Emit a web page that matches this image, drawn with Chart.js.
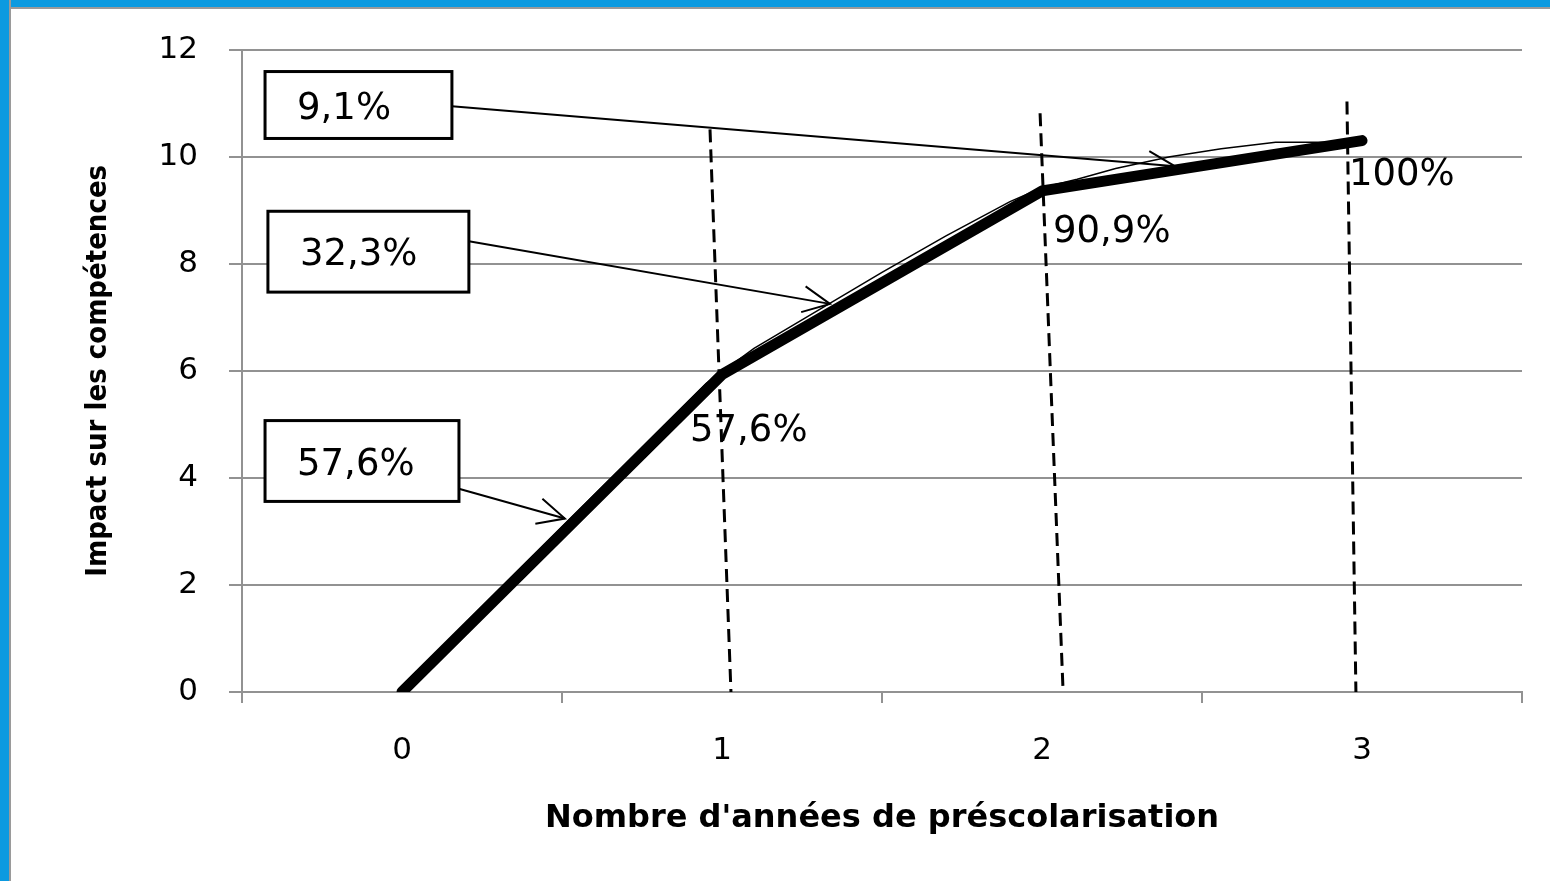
<!DOCTYPE html>
<html>
<head>
<meta charset="utf-8">
<script src="https://cdn.jsdelivr.net/npm/chart.js@4/dist/chart.umd.min.js"></script>
<style>
  html, body { margin: 0; padding: 0; background: #fff; }
  #frame { position: absolute; left: 0; top: 0; width: 1550px; height: 881px; overflow: hidden; }
  #topBand { position: absolute; left: 0; top: 0; width: 1550px; height: 7px; background: #0b9ae0; border-bottom: 2px solid #9a9a9a; }
  #leftBand { position: absolute; left: 0; top: 0; width: 9px; height: 881px; background: #0b9ae0; border-right: 2px solid #9a9a9a; }
  #chart { position: absolute; left: 0; top: 0; }
</style>
</head>
<body>
<div id="frame">
  <div id="topBand"></div>
  <div id="leftBand"></div>
  <canvas id="chart" width="1550" height="881"></canvas>
</div>
<script>
// categories and series
const categories = ["0", "1", "2", "3"];
const impact = [0, 5.93, 9.36, 10.3];
const pointLabels = ["", "57,6%", "90,9%", "100%"];

// thin hand-drawn trace running along the thick line
const traceX = [0, 0.25, 0.5, 0.75, 0.95, 1.1, 1.3, 1.5, 1.7, 1.9, 2.0, 2.11, 2.23, 2.4, 2.56, 2.73, 2.91, 3.0];
const traceY = [0, 1.58, 3.08, 4.57, 5.76, 6.42, 7.13, 7.84, 8.52, 9.16, 9.42, 9.58, 9.78, 10.0, 10.15, 10.27, 10.27, 10.3];

// gain labels in the boxes (share of the total gain per year)
const gainLabels = ["9,1%", "32,3%", "57,6%"];

const yTickMin = 0, yTickMax = 12, yTickStep = 2;

// annotation placement, in axis units
const boxPlace = [
  { x1: -0.428, x2: 0.156, yTop: 11.59, yBot: 10.34 },
  { x1: -0.419, x2: 0.209, yTop: 8.98, yBot: 7.47 },
  { x1: -0.428, x2: 0.178, yTop: 5.07, yBot: 3.56 }
];
const arrowPath = [
  [{ x: 0.156, y: 10.94 }, { x: 2.416, y: 9.82 }],
  [{ x: 0.209, y: 8.42 }, { x: 1.3375, y: 7.25 }],
  [{ x: 0.175, y: 3.80 }, { x: 0.509, y: 3.24 }]
];
const dashPath = [
  [{ x: 0.9625, y: 10.51 }, { x: 1.028, y: 0 }],
  [{ x: 1.994, y: 10.81 }, { x: 2.066, y: 0 }],
  [{ x: 2.953, y: 11.03 }, { x: 2.981, y: 0 }]
];
const labelShift = [null, { dx: -32, dy: 57 }, { dx: 11, dy: 41 }, { dx: -13, dy: 35 }];

const gridGrey = "#929292";
const valueFont = "37px 'DejaVu Sans', Verdana, sans-serif";

const annotations = {
  id: "annotations",
  afterDatasetsDraw(chart) {
    const ctx = chart.ctx, xs = chart.scales.xTrace, ys = chart.scales.y;
    ctx.save();

    // arrow heads
    ctx.strokeStyle = "#000";
    ctx.lineWidth = 2;
    arrowPath.forEach(p => {
      const x0 = xs.getPixelForValue(p[0].x), y0 = ys.getPixelForValue(p[0].y);
      const x1 = xs.getPixelForValue(p[1].x), y1 = ys.getPixelForValue(p[1].y);
      const a = Math.atan2(y1 - y0, x1 - x0), len = 30, spread = 0.45;
      ctx.beginPath();
      ctx.moveTo(x1 - len * Math.cos(a - spread), y1 - len * Math.sin(a - spread));
      ctx.lineTo(x1, y1);
      ctx.lineTo(x1 - len * Math.cos(a + spread), y1 - len * Math.sin(a + spread));
      ctx.stroke();
    });

    // boxes
    ctx.font = valueFont;
    ctx.textBaseline = "middle";
    ctx.textAlign = "left";
    gainLabels.forEach((t, i) => {
      const b = boxPlace[i];
      const l = xs.getPixelForValue(b.x1), r = xs.getPixelForValue(b.x2);
      const top = ys.getPixelForValue(b.yTop), bot = ys.getPixelForValue(b.yBot);
      ctx.fillStyle = "#fff";
      ctx.fillRect(l, top, r - l, bot - top);
      ctx.lineWidth = 3;
      ctx.strokeStyle = "#000";
      ctx.strokeRect(l, top, r - l, bot - top);
      ctx.fillStyle = "#000";
      ctx.fillText(t, l + 32, (top + bot) / 2 + 4);
    });

    // point labels
    const meta = chart.getDatasetMeta(0);
    pointLabels.forEach((t, i) => {
      if (!t) return;
      const pt = meta.data[i];
      ctx.fillStyle = "#000";
      ctx.fillText(t, pt.x + labelShift[i].dx, pt.y + labelShift[i].dy);
    });
    ctx.restore();
  }
};

const traceData = traceX.map((x, i) => ({ x, y: traceY[i] }));

const datasets = [
  {
    data: impact,
    xAxisID: "x",
    borderColor: "#000",
    borderWidth: 11,
    borderCapStyle: "round",
    borderJoinStyle: "round",
    pointRadius: 0,
    tension: 0,
    order: 0
  },
  {
    data: traceData,
    xAxisID: "xTrace",
    borderColor: "#000",
    borderWidth: 1.5,
    pointRadius: 0,
    tension: 0,
    order: 1
  }
];
dashPath.forEach(p => datasets.push({
  data: p, xAxisID: "xTrace", borderColor: "#000", borderWidth: 3,
  borderDash: [13, 7], pointRadius: 0, order: 2, clip: false
}));
arrowPath.forEach(p => datasets.push({
  data: p, xAxisID: "xTrace", borderColor: "#000", borderWidth: 2,
  pointRadius: 0, order: 2
}));

new Chart(document.getElementById("chart"), {
  type: "line",
  data: { labels: categories, datasets },
  options: {
    responsive: false,
    devicePixelRatio: 1,
    animation: false,
    layout: { padding: { top: 47, right: 28, left: 0, bottom: 0 } },
    plugins: { legend: { display: false }, tooltip: { enabled: false } },
    scales: {
      x: {
        type: "category",
        offset: true,
        afterFit: s => { s.height = 189; },
        grid: { offset: true, drawOnChartArea: false, drawTicks: true, tickLength: 11, color: gridGrey, lineWidth: 2 },
        border: { color: gridGrey, width: 2 },
        ticks: { color: "#000", padding: 29, font: { family: "'DejaVu Sans', Verdana, sans-serif", size: 31 } },
        title: {
          display: true,
          text: "Nombre d'années de préscolarisation",
          color: "#000",
          font: { family: "'DejaVu Sans', sans-serif", size: 32, weight: "bold" },
          padding: { top: 0, bottom: 43 }
        }
      },
      xTrace: { type: "linear", min: -0.5, max: 3.5, display: false },
      y: {
        min: yTickMin,
        max: yTickMax,
        afterFit: s => { s.width = 242; },
        grid: { color: gridGrey, lineWidth: 2, tickLength: 13 },
        border: { color: gridGrey, width: 2 },
        ticks: { stepSize: yTickStep, color: "#000", padding: 31, font: { family: "'DejaVu Sans', Verdana, sans-serif", size: 31 } },
        title: {
          display: true,
          text: "Impact sur les compétences",
          color: "#000",
          font: { family: "'Liberation Sans Narrow', 'DejaVu Sans Condensed', sans-serif", size: 29, weight: "bold" },
          padding: { top: 81, bottom: 0 }
        }
      }
    }
  },
  plugins: [annotations]
});
</script>
</body>
</html>
